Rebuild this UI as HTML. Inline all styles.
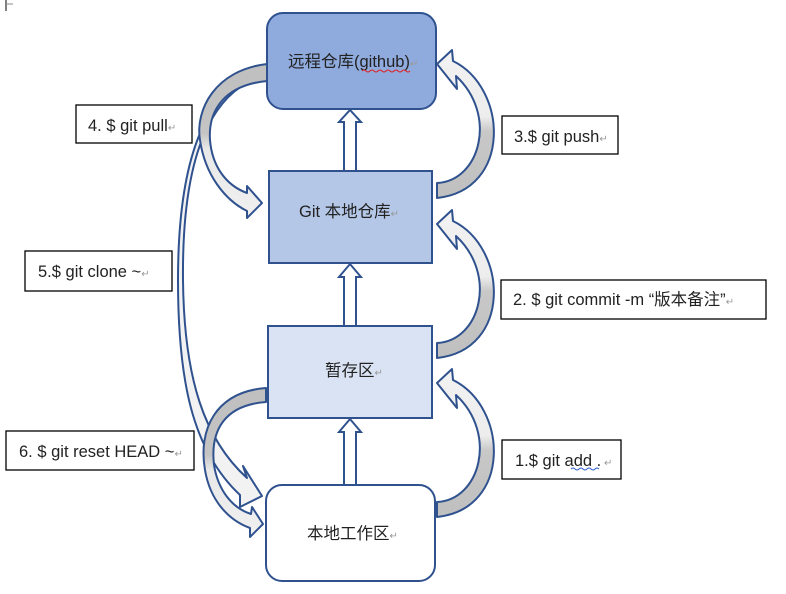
<!DOCTYPE html>
<html><head><meta charset="utf-8"><style>
html,body{margin:0;padding:0;background:#fff;}
svg{display:block;}
text{font-family:"Liberation Sans","Noto Sans CJK SC",sans-serif;font-size:16.5px;fill:#222;}
tspan.rt{fill:#999;font-size:10px;}
</style></head><body>
<svg width="786" height="594" viewBox="0 0 786 594" xmlns="http://www.w3.org/2000/svg">
<defs>
<linearGradient id="gr" x1="0" y1="1" x2="0" y2="0">
<stop offset="0" stop-color="#BFBFBF"/><stop offset="0.45" stop-color="#C8C8C8"/><stop offset="0.55" stop-color="#EDEDED"/><stop offset="1" stop-color="#F2F2F2"/>
</linearGradient>
<linearGradient id="gl" x1="0" y1="0" x2="0" y2="1">
<stop offset="0" stop-color="#BFBFBF"/><stop offset="0.45" stop-color="#C4C4C4"/><stop offset="0.55" stop-color="#E8E8E8"/><stop offset="1" stop-color="#F0F0F0"/>
</linearGradient>
<g id="rarrow">
<path d="M437,183 C480,181 498,115 456,76 L457,89 L437,64 L452,50 L453,61 C508,88 512,190 437,198 Z" fill="url(#gr)" stroke="#2F528F" stroke-width="2" stroke-linejoin="round"/>
</g>
</defs>
<path d="M6,0 V11" stroke="#000" stroke-width="1"/>
<path d="M6,4 H13" stroke="#888" stroke-width="1"/>

<rect x="267" y="13" width="169" height="96" rx="16" fill="#8FAADC" stroke="#2F528F" stroke-width="2"/>
<rect x="269" y="171" width="163" height="92" fill="#B4C7E7" stroke="#2F528F" stroke-width="2"/>
<rect x="268" y="326" width="164" height="92" fill="#DAE3F3" stroke="#2F528F" stroke-width="2"/>
<rect x="266" y="485" width="169" height="96" rx="16" fill="#fff" stroke="#2F528F" stroke-width="2"/>

<text x="288" y="67">远程仓库(github)<tspan class="rt">↵</tspan></text>
<path d="M362,71 q2,-2 4,0 t4,0 t4,0 t4,0 t4,0 t4,0 t4,0 t4,0 t4,0 t4,0 t4,0 t4,0" stroke="#e02020" fill="none" stroke-width="1"/>
<text x="299" y="217">Git 本地仓库<tspan class="rt">↵</tspan></text>
<text x="325" y="376">暂存区<tspan class="rt">↵</tspan></text>
<text x="307" y="539">本地工作区<tspan class="rt">↵</tspan></text>

<g fill="#fff" stroke="#2F528F" stroke-width="2">
<path d="M344,171 V122 H339 L350,110 L361,122 H356 V171 Z"/>
<path d="M344,326 V277 H339 L350,264 L361,277 H356 V326 Z"/>
<path d="M344,485 V432 H339 L350,419 L361,432 H356 V485 Z"/>
</g>

<use href="#rarrow"/>
<use href="#rarrow" transform="translate(0,160)"/>
<use href="#rarrow" transform="translate(0,319)"/>

<!-- clone -->
<path d="M263,76 C200,95 182,180 183,280 C184,380 205,440 247,478 L243,466 L262,496 L240,507 L240,495 C192,450 178,380 178,280 C178,170 200,90 263,70 Z" fill="#F2F2F2" stroke="#2F528F" stroke-width="2" stroke-linejoin="round"/>
<!-- pull -->
<path d="M267,64 C215,70 195,110 200,140 C205,175 225,200 247,211 L247,218 L262,203 L247,186 L247,193 C225,185 212,165 210,140 C208,110 225,85 267,81 Z" fill="url(#gl)" stroke="#2F528F" stroke-width="2" stroke-linejoin="round"/>
<!-- reset -->
<path d="M266,388 C215,392 198,430 205,470 C210,500 228,520 250,528 L250,537 L263,524 L252,507 L251,514 C232,508 218,490 214,465 C210,430 225,405 266,402 Z" fill="url(#gl)" stroke="#2F528F" stroke-width="2" stroke-linejoin="round"/>

<g fill="#fff" stroke="#000" stroke-width="1.3">
<rect x="76" y="105" width="116" height="38"/>
<rect x="502" y="116" width="116" height="38"/>
<rect x="25" y="251" width="147" height="40"/>
<rect x="501" y="280" width="265" height="39"/>
<rect x="6" y="431" width="188" height="39"/>
<rect x="502" y="440" width="119" height="39"/>
</g>
<text x="88" y="131">4. $ git pull<tspan class="rt">↵</tspan></text>
<text x="514" y="142">3.$ git push<tspan class="rt">↵</tspan></text>
<text x="38" y="277">5.$ git clone ~<tspan class="rt">↵</tspan></text>
<text x="513" y="305">2. $ git commit -m “版本备注”<tspan class="rt">↵</tspan></text>
<text x="19" y="457">6. $ git reset HEAD ~<tspan class="rt">↵</tspan></text>
<text x="515" y="466">1.$ git add .<tspan class="rt"> ↵</tspan></text>
<path d="M571,469 q2,-2 4,0 t4,0 t4,0 t4,0 t4,0 t4,0 t4,0" stroke="#3060d0" fill="none" stroke-width="1"/>
</svg>
</body></html>
